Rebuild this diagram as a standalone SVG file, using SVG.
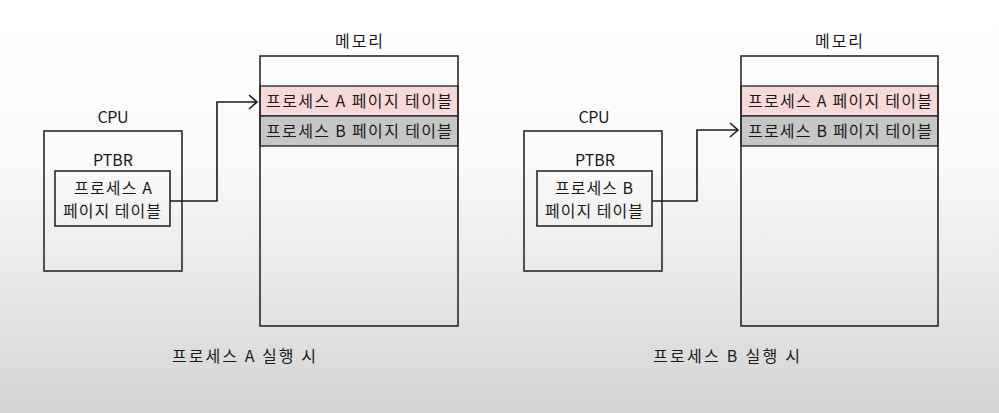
<svg xmlns="http://www.w3.org/2000/svg" width="999" height="413" viewBox="0 0 999 413">
<style>
.t{font-family:"Noto Sans CJK KR","Noto Sans",sans-serif;font-size:16px;fill:#1a1a1a}
.m{text-anchor:middle}
.box{fill:none;stroke:#2a2a2a;stroke-width:1.6}
.rowA{fill:#f8d9d9;stroke:#2a2a2a;stroke-width:1.4}
.rowB{fill:#c6c6c6;stroke:#2a2a2a;stroke-width:1.4}
.con{fill:none;stroke:#1a1a1a;stroke-width:1.6;marker-end:url(#arr)}
</style>
<defs>
<linearGradient id="bg" x1="0" y1="0" x2="0" y2="1">
<stop offset="0" stop-color="#ffffff"/>
<stop offset="0.4" stop-color="#fafafa"/>
<stop offset="1" stop-color="#d4d4d4"/>
</linearGradient>
<marker id="arr" markerWidth="12" markerHeight="16" refX="10" refY="8" orient="auto" markerUnits="userSpaceOnUse">
<path d="M2,1 L10,8 L2,15" fill="none" stroke="#1a1a1a" stroke-width="1.6"/>
</marker>
</defs>
<rect width="999" height="413" fill="url(#bg)"/>

<g id="cpuA">
<text class="t m" x="113" y="123" textLength="31">CPU</text>
<rect class="box" x="44" y="131" width="138" height="140"/>
<text class="t m" x="113" y="166" textLength="40">PTBR</text>
</g>
<g id="ptbrA">
<rect class="box" x="55" y="171" width="115" height="55"/>
<text class="t m" x="113" y="194" textLength="78">프로세스 A</text>
<text class="t m" x="112" y="217" textLength="98">페이지 테이블</text>
</g>
<g id="memA">
<text class="t m" x="359" y="47" textLength="48">메모리</text>
<rect class="rowA" x="260" y="86" width="198" height="30"/>
<rect class="rowB" x="260" y="116" width="198" height="30"/>
<rect class="box" x="260" y="56" width="198" height="270"/>
<text class="t" x="266" y="107" textLength="186">프로세스 A 페이지 테이블</text>
<text class="t" x="266" y="137" textLength="186">프로세스 B 페이지 테이블</text>
</g>
<g id="captionA">
<text class="t" x="172" y="362" font-size="16" textLength="144">프로세스 A 실행 시</text>
</g>

<g id="cpuB">
<text class="t m" x="594" y="123" textLength="31">CPU</text>
<rect class="box" x="524" y="131" width="138" height="140"/>
<text class="t m" x="595" y="166" textLength="40">PTBR</text>
</g>
<g id="ptbrB">
<rect class="box" x="537" y="171" width="115" height="55"/>
<text class="t m" x="594" y="194" textLength="78">프로세스 B</text>
<text class="t m" x="594" y="217" textLength="98">페이지 테이블</text>
</g>
<g id="memB">
<text class="t m" x="839" y="47" textLength="48">메모리</text>
<rect class="rowA" x="741" y="86" width="197" height="30"/>
<rect class="rowB" x="741" y="116" width="197" height="30"/>
<rect class="box" x="741" y="56" width="197" height="270"/>
<text class="t" x="748" y="107" textLength="184">프로세스 A 페이지 테이블</text>
<text class="t" x="748" y="137" textLength="184">프로세스 B 페이지 테이블</text>
</g>
<g id="captionB">
<text class="t" x="653" y="362" font-size="16" textLength="147">프로세스 B 실행 시</text>
</g>

<g id="connectors">
<polyline class="con" points="170,201 217,201 217,102 257,102"/>
<polyline class="con" points="652,201 697,201 697,130 738,130"/>
</g>
</svg>
